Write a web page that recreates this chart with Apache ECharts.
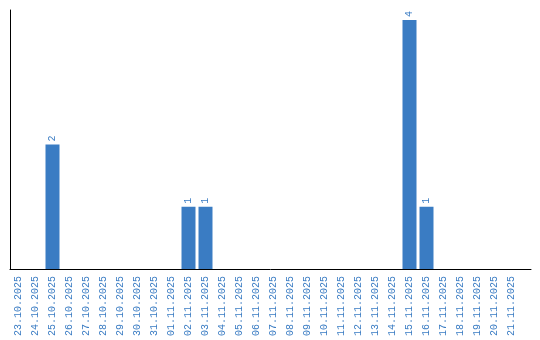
<!DOCTYPE html>
<html><head><meta charset="utf-8">
<script src="https://cdn.jsdelivr.net/npm/echarts@6/dist/echarts.min.js"></script>
<style>html,body{margin:0;padding:0;background:#fff}#c{width:540px;height:340px}</style>
</head><body><div id="c"></div>
<script>
const categories = ['23.10.2025','24.10.2025','25.10.2025','26.10.2025','27.10.2025','28.10.2025','29.10.2025','30.10.2025','31.10.2025','01.11.2025','02.11.2025','03.11.2025','04.11.2025','05.11.2025','06.11.2025','07.11.2025','08.11.2025','09.11.2025','10.11.2025','11.11.2025','12.11.2025','13.11.2025','14.11.2025','15.11.2025','16.11.2025','17.11.2025','18.11.2025','19.11.2025','20.11.2025','21.11.2025'];
const values = [0,0,2,0,0,0,0,0,0,0,1,1,0,0,0,0,0,0,0,0,0,0,0,4,1,0,0,0,0,0];

const blue = '#3a7cc3';
const font = 'Liberation Mono';
const chart = echarts.init(document.getElementById('c'), null, {renderer:'canvas'});
chart.setOption({
  animation: false,
  grid: [
    {left: 10, right: 20, top: 20, bottom: 71, containLabel: false},
    {left: 10, right: 9, top: 10, bottom: 71, containLabel: false}
  ],
  xAxis: [
    {type: 'category', data: categories, gridIndex: 0,
     axisLine: {show: false}, axisTick: {show: false},
     axisLabel: {rotate: 90, color: blue, fontFamily: font, fontSize: 10, margin: 7, interval: 0}},
    {type: 'value', gridIndex: 1, min: 0, max: 1,
     axisLine: {show: true, lineStyle: {color: '#000', width: 1}},
     axisTick: {show: false}, axisLabel: {show: false}, splitLine: {show: false}}
  ],
  yAxis: [
    {type: 'value', gridIndex: 0, min: 0, max: 4, show: false, splitLine: {show: false}},
    {type: 'value', gridIndex: 1, min: 0, max: 1,
     axisLine: {show: true, lineStyle: {color: '#000', width: 1}},
     axisTick: {show: false}, axisLabel: {show: false}, splitLine: {show: false}}
  ],
  series: [{
    type: 'bar', xAxisIndex: 0, yAxisIndex: 0,
    data: values.map(v => v === 0 ? null : v),
    barWidth: 14,
    itemStyle: {color: blue},
    label: {show: true, position: 'top', rotate: 90, align: 'left', verticalAlign: 'middle',
            distance: 3, color: blue, fontFamily: font, fontSize: 10}
  }]
});
</script></body></html>
